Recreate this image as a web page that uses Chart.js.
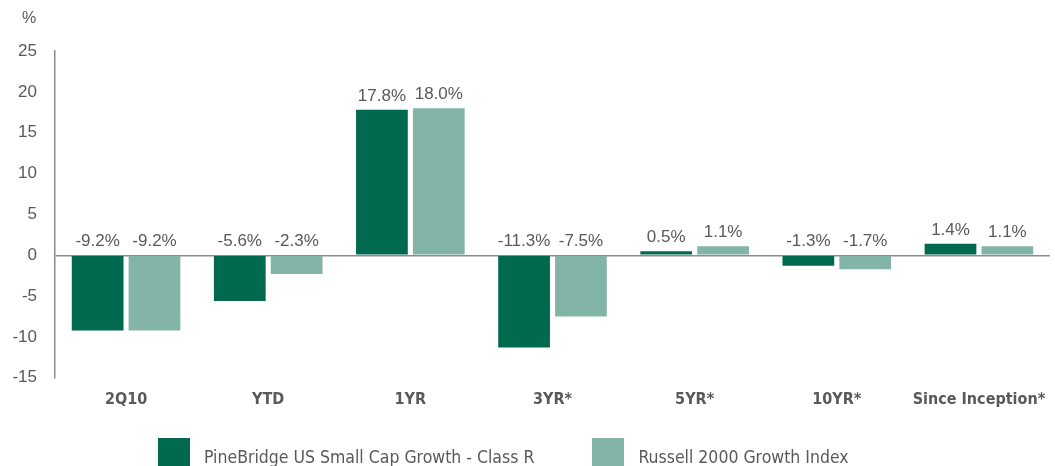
<!DOCTYPE html>
<html>
<head>
<meta charset="utf-8">
<script src="https://cdn.jsdelivr.net/npm/chart.js@4.4.1/dist/chart.umd.min.js"></script>
<style>
    html, body { margin: 0; padding: 0; background: #fff; overflow: hidden; }
    #wrap { position: relative; width: 1055px; height: 466px; overflow: hidden; }
    #chartBox { position: absolute; left: 0; top: 0; width: 1055px; height: 451px; }
    #perfLegend {
        position: absolute; left: 158px; top: 438px;
        display: flex; gap: 58px;
        font-family: "DejaVu Sans Condensed", "Liberation Sans", sans-serif;
        font-size: 17.5px; color: #595959;
    }
    #perfLegend .item { display: flex; align-items: flex-start; }
    #perfLegend .swatch { width: 32px; height: 30px; margin-right: 14px; }
    #perfLegend .name { padding-top: 9px; white-space: nowrap; }
</style>
</head>
<body>
<div id="wrap">
    <div id="chartBox"><canvas id="perfChart"></canvas></div>
    <div id="perfLegend"></div>
</div>
<script>
const periods = ['2Q10', 'YTD', '1YR', '3YR*', '5YR*', '10YR*', 'Since Inception*'];
const fundReturns = [-9.2, -5.6, 17.8, -11.3, 0.5, -1.3, 1.4];
const indexReturns = [-9.2, -2.3, 18.0, -7.5, 1.1, -1.7, 1.1];
const seriesNames = ['PineBridge US Small Cap Growth - Class R', 'Russell 2000 Growth Index'];
const yTicks = [-15, -10, -5, 0, 5, 10, 15, 20, 25];

const DARK = '#00694E';
const LIGHT = '#82B4A7';
const AXIS = '#8c8c8c';
const TEXT = '#595959';
const NARROW = '"DejaVu Sans Condensed", "Liberation Sans Narrow", "Liberation Sans", sans-serif';

// value labels sit above the bar, or just above the zero line for negative bars
const valueLabels = {
    id: 'valueLabels',
    afterDatasetsDraw(chart) {
        const ctx = chart.ctx;
        const y = chart.scales.y;
        ctx.save();
        ctx.font = '17px "Liberation Sans", Arial, sans-serif';
        ctx.fillStyle = TEXT;
        ctx.textAlign = 'center';
        ctx.textBaseline = 'bottom';
        chart.data.datasets.forEach((ds, i) => {
            chart.getDatasetMeta(i).data.forEach((bar, j) => {
                const v = ds.data[j];
                ctx.fillText(v.toFixed(1) + '%', bar.x, y.getPixelForValue(Math.max(v, 0)) - 5);
            });
        });
        ctx.restore();
    }
};

// unit marker above the value axis
const unitMark = {
    id: 'unitMark',
    afterDraw(chart) {
        const ctx = chart.ctx;
        const y = chart.scales.y;
        ctx.save();
        ctx.font = '16px "Liberation Sans", Arial, sans-serif';
        ctx.fillStyle = TEXT;
        ctx.textAlign = 'left';
        ctx.textBaseline = 'middle';
        ctx.fillText('%', 22, y.top - 32);
        ctx.restore();
    }
};

const perfChart = new Chart(document.getElementById('perfChart'), {
    type: 'bar',
    data: {
        labels: periods,
        datasets: [
            { label: seriesNames[0], data: fundReturns, backgroundColor: DARK },
            { label: seriesNames[1], data: indexReturns, backgroundColor: LIGHT }
        ]
    },
    options: {
        responsive: true,
        maintainAspectRatio: false,
        animation: false,
        categoryPercentage: 0.80,
        barPercentage: 0.91,
        layout: { padding: { top: 51, right: 5, left: 0, bottom: 38 } },
        plugins: {
            tooltip: { enabled: false },
            legend: { display: false }
        },
        scales: {
            x: {
                grid: { display: false },
                border: { display: false },
                ticks: {
                    padding: 4,
                    color: TEXT,
                    font: { family: NARROW, size: 16, weight: 'bold' }
                }
            },
            y: {
                min: -15,
                max: 25,
                afterBuildTicks: axis => { axis.ticks = yTicks.map(v => ({ value: v })); },
                afterFit: axis => { axis.width = 55; },
                grid: {
                    drawTicks: false,
                    color: c => c.tick && c.tick.value === 0 ? AXIS : 'rgba(0,0,0,0)',
                    lineWidth: 1.5
                },
                border: { display: true, color: AXIS, width: 1.5 },
                ticks: {
                    padding: 18,
                    color: TEXT,
                    font: { family: '"Liberation Sans", Arial, sans-serif', size: 17 }
                }
            }
        }
    },
    plugins: [valueLabels, unitMark]
});

// legend built from the datasets
document.getElementById('perfLegend').innerHTML = perfChart.data.datasets.map(ds => `
    <div class="item">
        <div class="swatch" style="background:${ds.backgroundColor}"></div>
        <div class="name">${ds.label}</div>
    </div>
`).join('');
</script>
</body>
</html>
